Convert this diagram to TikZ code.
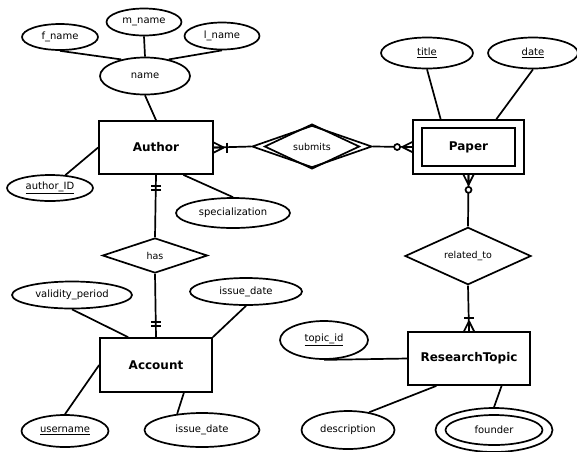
\documentclass[tikz,border=0pt]{standalone}
\usepackage{fontspec}
\setmainfont{DejaVu Sans}
\usepackage{tikz}
\usetikzlibrary{shapes.geometric}

\tikzset{
  attr/.style={draw, ellipse, inner sep=0pt, font=\fontsize{10}{12}\selectfont},
  entity/.style={draw, rectangle, inner sep=0pt, font=\fontsize{12}{14}\selectfont\bfseries},
  rel/.style={draw, diamond, inner sep=0pt, font=\fontsize{9.5}{11}\selectfont},
  crowfoot/.pic={\draw (0,-5) -- (10,0) (0,0) -- (10,0) (0,5) -- (10,0);},
  onebar/.pic={\draw (13,-5) -- (13,5);},
  zeroring/.pic={\draw[fill=white] (15,0) circle (3pt);},
  twobars/.pic={\draw (11,-5) -- (11,5) (15,-5) -- (15,5);}
}

\begin{document}
\begin{tikzpicture}[x=1pt, y=-1pt, line width=1.7pt]
\useasboundingbox[fill=white] (0,0) rectangle (577,451);

% entities
\node[entity, minimum width=114pt, minimum height=53pt] (author) at (156,147.5) {Author};
\node[entity, minimum width=111pt, minimum height=54pt] (paper) at (468.5,147) {};
\node[entity, minimum width=93pt, minimum height=38pt] (paperin) at (468.5,147) {Paper};
\node[entity, minimum width=112pt, minimum height=54pt] (account) at (156,365) {Account};
\node[entity, minimum width=122pt, minimum height=53pt] (topic) at (469,358.5) {ResearchTopic};

% relationships
\node[rel, minimum width=120pt, minimum height=42pt] (submits) at (312,146.5) {};
\node[rel, minimum width=95pt, minimum height=32pt] (submitsin) at (312,146.5) {submits};
\node[rel, minimum width=105pt, minimum height=35pt] (has) at (155,255.5) {has};
\node[rel, minimum width=126pt, minimum height=52pt] (relatedto) at (468,256) {related\_to};

% attributes of Author
\node[attr, minimum width=76pt, minimum height=26pt] (fname) at (60,37) {f\_name};
\node[attr, minimum width=75pt, minimum height=27pt] (mname) at (144,22) {m\_name};
\node[attr, minimum width=75pt, minimum height=27pt] (lname) at (222,36) {l\_name};
\node[attr, minimum width=90pt, minimum height=37pt] (name) at (145,76) {name};
\node[attr, minimum width=86pt, minimum height=26pt] (authorid) at (50,188) {\underline{author\_ID}};
\node[attr, minimum width=114pt, minimum height=30pt] (special) at (233,213) {specialization};

% attributes of Paper
\node[attr, minimum width=92pt, minimum height=31pt] (title) at (427,53) {\underline{title}};
\node[attr, minimum width=90pt, minimum height=31pt] (date) at (533,53) {\underline{date}};

% attributes of Account
\node[attr, minimum width=120pt, minimum height=27pt] (validity) at (72,295) {validity\_period};
\node[attr, minimum width=112pt, minimum height=27pt] (issuetop) at (246,291.5) {issue\_date};
\node[attr, minimum width=87pt, minimum height=32pt] (username) at (65,431) {\underline{username}};
\node[attr, minimum width=115pt, minimum height=34pt] (issuebot) at (202,430) {issue\_date};

% attributes of ResearchTopic
\node[attr, minimum width=88pt, minimum height=38pt] (topicid) at (324,340) {\underline{topic\_id}};
\node[attr, minimum width=93pt, minimum height=38pt] (descr) at (348,430) {description};
\node[attr, minimum width=117pt, minimum height=44pt] (founder) at (494,430) {};
\node[attr, minimum width=97pt, minimum height=30pt] (founderin) at (494,430) {founder};

% attribute lines
\draw (fname.south) -- (name.145);
\draw (mname.south) -- (name.north);
\draw (lname.south) -- (name.35);
\draw (name.south) -- (author.north);
\draw (authorid) -- (author.west);
\draw (author.-45) -- (special.north);
\draw (title.south) -- (paper.135);
\draw (date.south) -- (paper.45);
\draw (validity.south) -- (account.135);
\draw (issuetop.south) -- (account.north east);
\draw (username.north) -- (account.west);
\draw (issuebot.147) -- (account.-45);
\draw (topicid.south) -- (topic.west);
\draw (descr.40) -- (topic.-140);
\draw (founder.north) -- (topic.-40);

% relationship lines
\draw (author.east) -- (submits.west);
\draw (submits.east) -- (paper.west);
\draw (author.south) -- (has.north);
\draw (has.south) -- (account.north);
\draw (paper.south) -- (relatedto.north);
\draw (relatedto.south) -- (topic.north);

% cardinality marks
\pic at (author.east) {crowfoot};
\pic at (author.east) {onebar};
\pic[rotate=180] at (paper.west) {crowfoot};
\pic[rotate=180] at (paper.west) {zeroring};
\pic[rotate=-90] at (paper.south) {crowfoot};
\pic[rotate=-90] at (paper.south) {zeroring};
\pic[rotate=90] at (topic.north) {crowfoot};
\pic[rotate=90] at (topic.north) {onebar};
\pic[rotate=-90] at (author.south) {twobars};
\pic[rotate=90] at (account.north) {twobars};
\end{tikzpicture}
\end{document}
